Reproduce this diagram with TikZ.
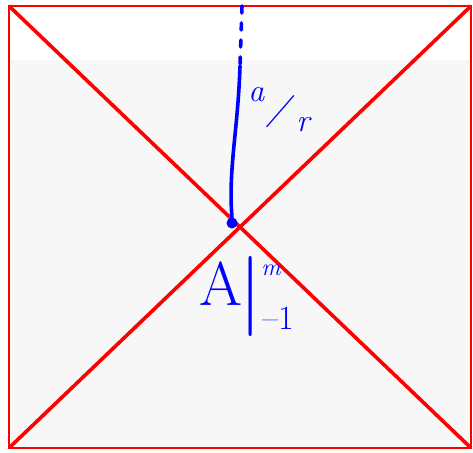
\documentclass[tikz,border=0pt]{standalone}
\usepackage{fontspec}
\usetikzlibrary{calc}
\begin{document}
\begin{tikzpicture}[x=1pt, y=-1pt,
    frame/.style={draw=red, line width=1.6pt},
    diag/.style={draw=red, line width=3.6pt},
    ink/.style={draw=blue, line width=3.6pt, line cap=round},
    hand/.style={text=blue, inner sep=0pt, anchor=center}]
  \useasboundingbox (0,0) rectangle (473,452);
  % paper
  \fill[gray!6] (9,60) rectangle (471,448);
  \coordinate (tl) at (9,6);
  \coordinate (tr) at (471,6);
  \coordinate (bl) at (9,448);
  \coordinate (br) at (471,448);
  \draw[frame] (tl) rectangle (br);
  \draw[diag] (tl) -- (br);
  \draw[diag] (tr) -- (bl);
  % point and its line
  \node[circle, fill=blue, inner sep=0pt, minimum size=11pt] (pt) at (232,223) {};
  \coordinate (top) at (242,6);
  \coordinate (mid) at (240,66);
  \draw[ink, dash pattern=on 7pt off 10pt] (top) -- (mid);
  \draw[ink] (mid) .. controls (238,130) and (228,170) .. (pt.north);
  % labels
  \node[hand, font=\fontsize{32}{34}\selectfont\itshape] (frac) at (279,110)
    {\raisebox{16pt}{a}\rotatebox{-22}{\upshape\fontsize{40}{42}\selectfont /}\raisebox{-14pt}{r}};
  \node[hand, font=\fontsize{62}{64}\selectfont] (A) at (221,284) {A};
  \node[hand, font=\fontsize{80}{82}\selectfont] (bar) at (251,296) {|};
  \node[hand, font=\fontsize{24}{26}\selectfont\itshape] (m) at (271,270) {m};
  \node[hand, font=\fontsize{34}{36}\selectfont] (one) at (278,318) {--1};
\end{tikzpicture}
\end{document}
